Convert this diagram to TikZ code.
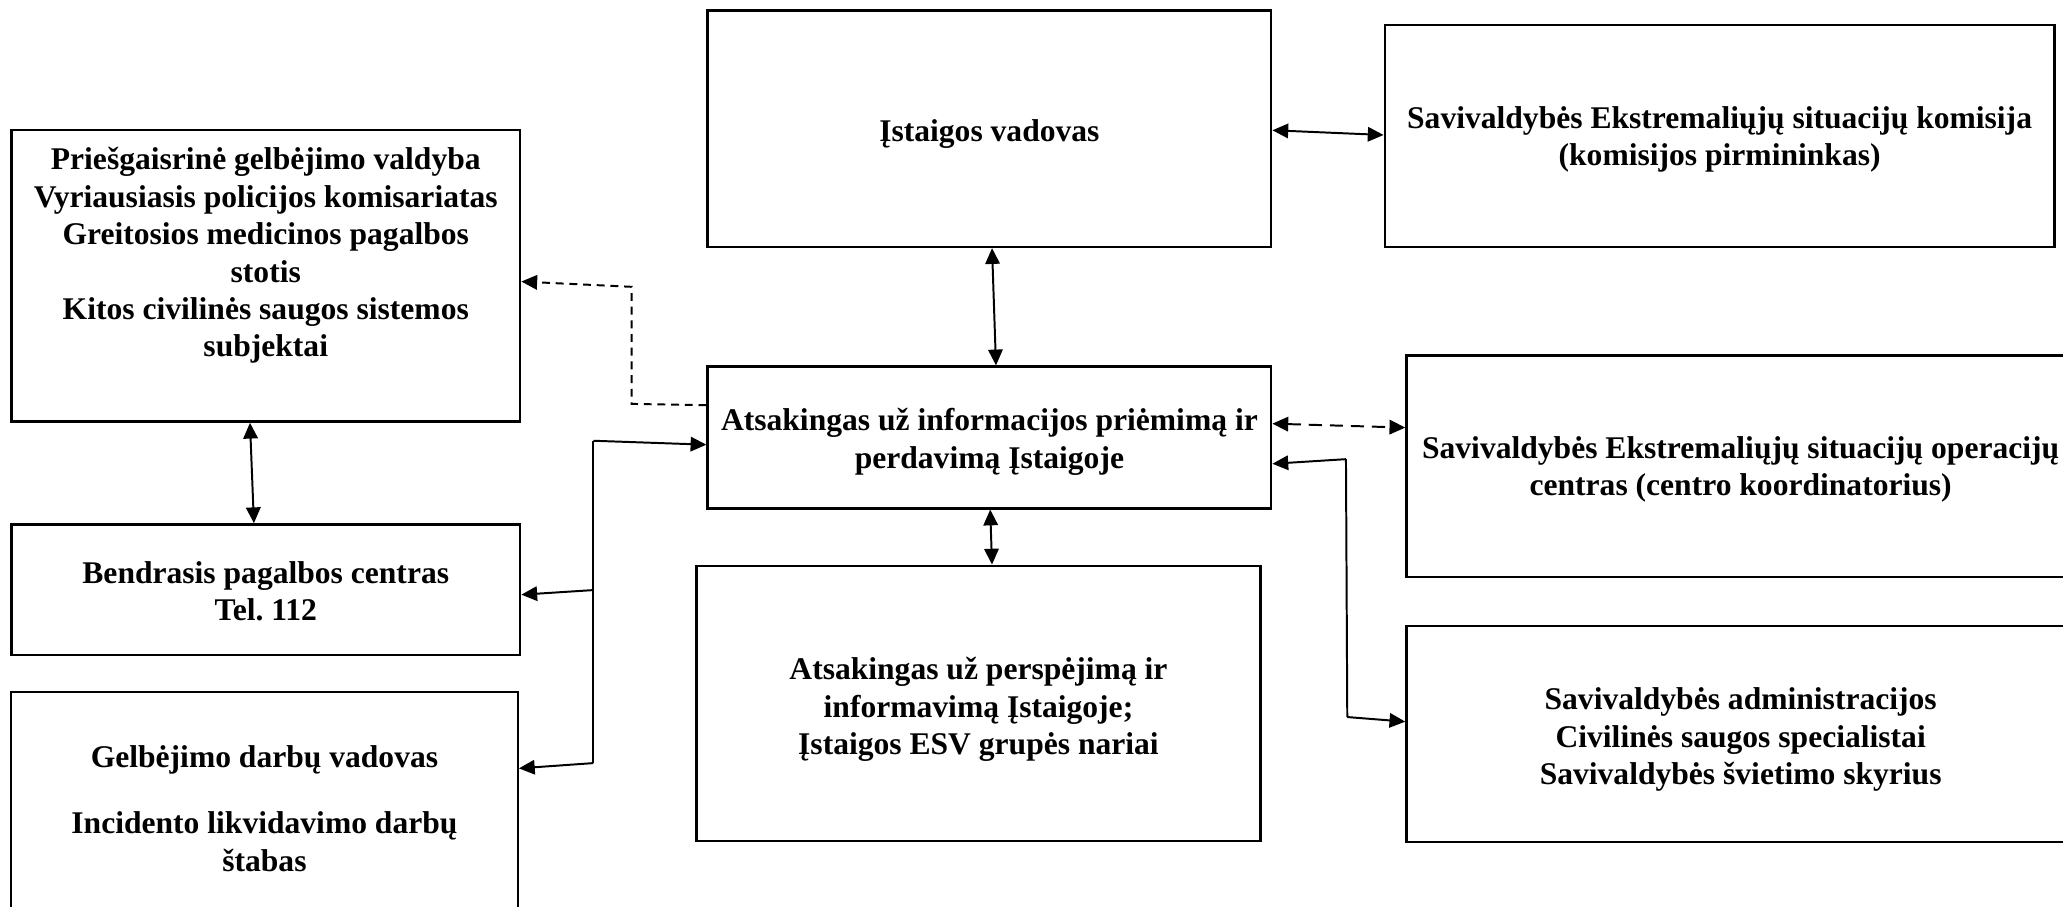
\documentclass[tikz,border=0pt]{standalone}
\usepackage{fontspec}
\setmainfont{Liberation Serif}
\usetikzlibrary{arrows.meta}
\begin{document}
\begin{tikzpicture}[x=0.5pt,y=-0.5pt,
  box/.style={draw, line width=0.9pt, inner sep=0pt},
  txt/.style={align=center, inner sep=0pt, font=\fontsize{12}{14.2}\selectfont\bfseries\frenchspacing},
  conn/.style={line width=0.75pt},
  tip/.style={-{Triangle[length=6pt,width=5.5pt]}},
  both/.style={{Triangle[length=6pt,width=5.5pt]}-{Triangle[length=6pt,width=5.5pt]}},
  dsh/.style={dash pattern=on 3pt off 2.2pt},
  ldsh/.style={dash pattern=on 5pt off 3pt}]
\clip (0,0) rectangle (1568,689);
\fill[white] (0,0) rectangle (1568,689);
% boxes
\node[box, minimum width=193.35pt, minimum height=110.85pt] (A) at (202,209.6) {};
\node[box, minimum width=193.35pt, minimum height=49.65pt] (B) at (202,448.2) {};
\node[box, minimum width=192.5pt, minimum height=90pt] (C) at (201,616) {};
\node[box, minimum width=214.2pt, minimum height=89.85pt] (D) at (752,97.85) {};
\node[box, minimum width=254.5pt, minimum height=84.25pt] (E) at (1307,103.25) {};
\node[box, minimum width=214.2pt, minimum height=53.9pt] (F) at (752,332.5) {};
\node[box, minimum width=254pt, minimum height=84.25pt] (G) at (1323,354.5) {};
\node[box, minimum width=254pt, minimum height=82pt] (H) at (1323,558) {};
\node[box, minimum width=214.3pt, minimum height=104.5pt] (I) at (743.7,534.5) {};
% texts
\node[txt] (At) at (202,194.5) {\strut Priešgaisrinė gelbėjimo valdyba\\Vyriausiasis policijos komisariatas\\Greitosios medicinos pagalbos\\stotis\\Kitos civilinės saugos sistemos\\subjektai\strut};
\node[txt] (Bt) at (202,452) {\strut Bendrasis pagalbos centras\\Tel. 112\strut};
\node[txt] (Ct) at (201,617) {\strut Gelbėjimo darbų vadovas\\[11.1pt]Incidento likvidavimo darbų\\štabas\strut};
\node[txt, anchor=base] (Dt) at (752,107.6) {Įstaigos vadovas};
\node[txt] (Et) at (1307,106) {\strut Savivaldybės Ekstremaliųjų situacijų komisija\\(komisijos pirmininkas)\strut};
\node[txt] (Ft) at (752,336.1) {\strut Atsakingas už informacijos priėmimą ir\\perdavimą Įstaigoje\strut};
\node[txt] (Gt) at (1323,356.9) {\strut Savivaldybės Ekstremaliųjų situacijų operacijų\\centras (centro koordinatorius)\strut};
\node[txt] (Ht) at (1323,562.3) {\strut Savivaldybės administracijos\\Civilinės saugos specialistai\\Savivaldybės švietimo skyrius\strut};
\node[txt] (It) at (743.7,539.5) {\strut Atsakingas už perspėjimą ir\\informavimą Įstaigoje;\\Įstaigos ESV grupės nariai\strut};
% connectors
\draw[conn,both] (D.east |- 0,99) -- (E.west |- 0,102.6);
\draw[conn,both] (D.south -| 754,0) -- (F.north -| 757,0);
\draw[conn,both] (F.south -| 752.6,0) -- (I.north -| 754,0);
\draw[conn,both] (A.south -| 190,0) -- (B.north -| 193,0);
\draw[conn,dsh,tip] (F.west |- 0,308) -- (480,307) -- (480,218) -- (A.east |- 0,214);
\coordinate (j1) at (451,335);
\coordinate (j2) at (451,448.5);
\coordinate (j3) at (451,580);
\draw[conn] (j1) -- (j3);
\draw[conn,tip] (j1) -- (F.west |- 0,338);
\draw[conn,tip] (j2) -- (B.east |- 0,452);
\draw[conn,tip] (j3) -- (C.east |- 0,584);
\draw[conn,ldsh,both] (F.east |- 0,322) -- (G.west |- 0,325);
\coordinate (k1) at (1023,349);
\coordinate (k2) at (1024,545);
\draw[conn] (k1) -- (k2);
\draw[conn,tip] (k1) -- (F.east |- 0,352.5);
\draw[conn,tip] (k2) -- (H.west |- 0,548.5);
\end{tikzpicture}
\end{document}
